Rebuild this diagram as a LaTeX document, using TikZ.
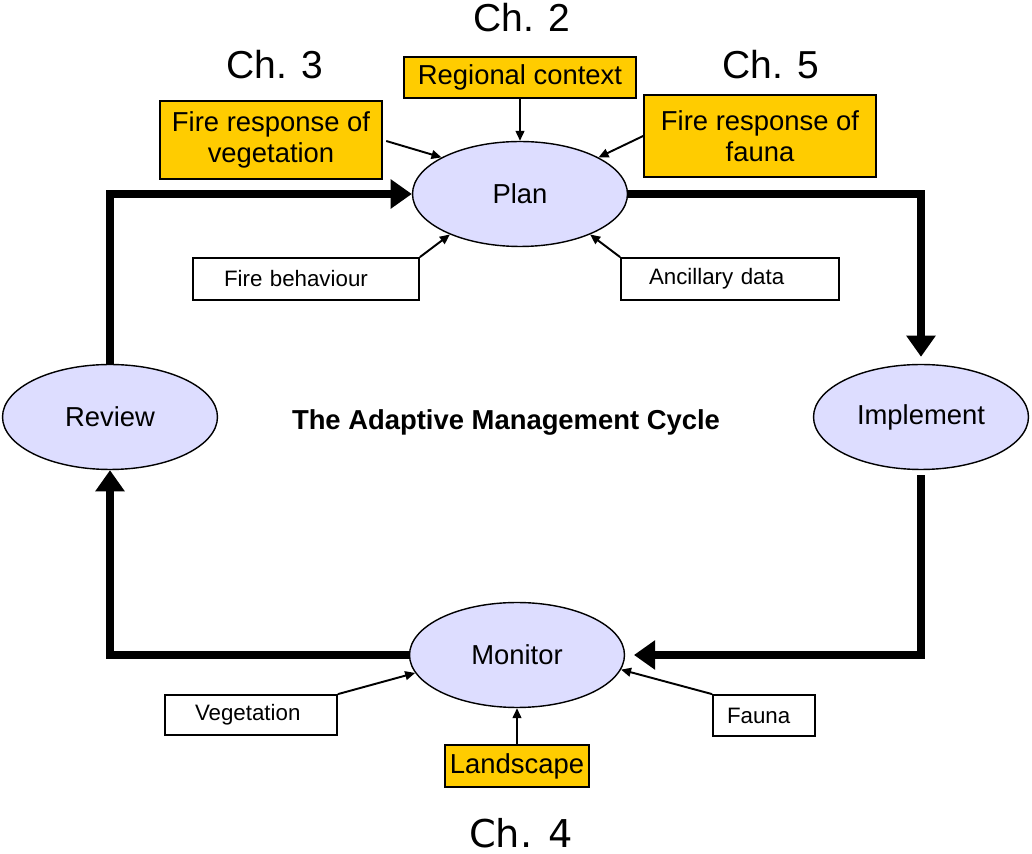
\documentclass[tikz,border=0pt]{standalone}
\usepackage{fontspec}
\setmainfont{Liberation Sans}
\newfontfamily\chapfont{DejaVu Sans}
\usetikzlibrary{arrows.meta,shapes.geometric}
\definecolor{chapyellow}{RGB}{255,204,0}
\definecolor{stagefill}{RGB}{221,221,255}
\begin{document}
\begin{tikzpicture}[x=0.02cm, y=-0.02cm,
        stage/.style={ellipse, draw, line width=0.8pt, fill=stagefill, minimum width=4.3cm, minimum height=2.1cm, inner sep=0pt, font=\fontsize{15.6}{18}\selectfont},
        chapbox/.style={draw, line width=1pt, fill=chapyellow, align=center, inner sep=0pt, font=\fontsize{15.6}{17.5}\selectfont},
        databox/.style={draw, line width=1pt, fill=white, align=left, inner ysep=0pt, font=\fontsize{12.7}{14}\selectfont},
        chaplabel/.style={font=\fontsize{22.2}{24}\selectfont},
        loopline/.style={line width=4pt, -{Triangle[length=12pt,width=16pt]}},
        feed/.style={line width=1.1pt, -{Triangle[length=5.7pt,width=5pt]}}]
                \useasboundingbox (0,0) rectangle (1032,854);
                % chapter labels
                \node[chaplabel] (ch2) at (522,18) {Ch. 2};
                \node[chaplabel] (ch3) at (275,65) {Ch. 3};
                \node[chaplabel] (ch5) at (771,65) {Ch. 5};
                \node[font=\chapfont\fontsize{21.8}{24}\selectfont] (ch4) at (521,833) {Ch. 4};
                % the four stages
                \node[stage] (plan) at (520,194) {Plan};
                \node[stage] (implement) at (921,417) {Implement};
                \node[stage] (review) at (110,417) {Review};
                \node[stage] (monitor) at (517,655) {Monitor};
                \node[font=\bfseries\fontsize{15.6}{18}\selectfont] (title) at (506,422) {The Adaptive Management Cycle};
                % inputs to the plan
                \node[chapbox, minimum width=4.64cm, minimum height=0.82cm] (regional) at (520,77.5) {Regional context};
                \node[chapbox, minimum width=4.44cm, minimum height=1.56cm] (firevege) at (271,140) {Fire response of\\vegetation};
                \node[chapbox, minimum width=4.64cm, minimum height=1.64cm] (firefauna) at (760,136) {Fire response of\\fauna};
                \node[databox, inner xsep=0.62cm, text width=3.28cm, minimum height=0.84cm] (firebeh) at (306,279) {Fire behaviour};
                \node[databox, inner xsep=0.56cm, text width=3.24cm, minimum height=0.84cm] (ancillary) at (730,279) {Ancillary data};
                % inputs to monitoring
                \node[databox, inner xsep=0.6cm, text width=2.24cm, minimum height=0.8cm] (vege) at (251,715) {Vegetation};
                \node[databox, inner xsep=0.28cm, text width=1.48cm, minimum height=0.82cm] (fauna) at (764,715.5) {Fauna};
                \node[chapbox, minimum width=2.88cm, minimum height=0.84cm] (landscape) at (517,766) {Landscape};
                % the cycle
                \draw[loopline] (review.north) |- (plan.west);
                \draw[loopline, shorten >=4pt] (plan.east) -| (implement.north);
                \draw[loopline, shorten <=3pt, shorten >=5pt] (implement.south) |- (monitor.east);
                \draw[loopline] (monitor.west) -| (review.south);
                % feeds
                \draw[feed] (regional.south) -- (plan.north);
                \draw[feed, shorten <=2pt] (firevege.east) -- (plan.155);
                \draw[feed] (firefauna.west) -- (plan.25);
                \draw[feed] (firebeh.north east) -- (plan.210);
                \draw[feed] (ancillary.north west) -- (plan.330);
                \draw[feed] (vege.north east) -- (monitor.190);
                \draw[feed] (fauna.north west) -- (monitor.352);
                \draw[feed] (landscape.north) -- (monitor.south);
            \end{tikzpicture}
\end{document}
